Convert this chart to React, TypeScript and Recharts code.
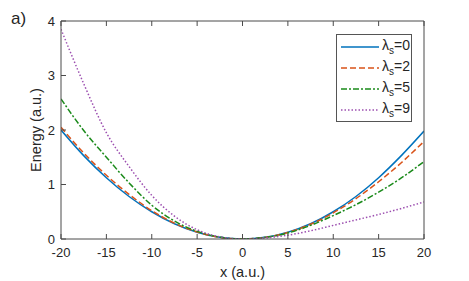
import { LineChart, Line, XAxis, YAxis } from 'recharts';

// x positions (a.u.) and energies
const xs = [-20, -17.5, -15, -12.5, -10, -7.5, -5, -2.5, 0, 2.5, 5, 7.5, 10, 12.5, 15, 17.5, 20];
const lambda0 = [2.0, 1.53, 1.125, 0.78, 0.5, 0.28, 0.125, 0.03, 0, 0.03, 0.125, 0.28, 0.5, 0.78, 1.125, 1.53, 1.98];
const lambda2 = [2.05, 1.58, 1.17, 0.82, 0.52, 0.29, 0.13, 0.03, 0, 0.03, 0.12, 0.27, 0.48, 0.74, 1.05, 1.4, 1.79];
const lambda5 = [2.57, 1.99, 1.5, 1.03, 0.62, 0.33, 0.14, 0.035, 0, 0.03, 0.11, 0.25, 0.43, 0.63, 0.86, 1.12, 1.42];
const lambda9 = [3.85, 2.85, 1.95, 1.33, 0.8, 0.42, 0.17, 0.04, 0, 0.02, 0.07, 0.15, 0.25, 0.35, 0.45, 0.56, 0.68];

const xTicks = [-20, -15, -10, -5, 0, 5, 10, 15, 20];
const yTicks = [0, 1, 2, 3, 4];

const series = [
  { key: 'l0', lambda: '0', color: '#0072BD', dash: undefined },
  { key: 'l2', lambda: '2', color: '#D95319', dash: '6 3' },
  { key: 'l5', lambda: '5', color: '#1a8a1a', dash: '6 2 2 2' },
  { key: 'l9', lambda: '9', color: '#9c4fb0', dash: '1.5 2' },
];

const data = xs.map((x, i) => ({
  x,
  l0: lambda0[i],
  l2: lambda2[i],
  l5: lambda5[i],
  l9: lambda9[i],
}));

const font = 'Liberation Sans, Arial, Helvetica, sans-serif';
const axisColor = '#4a4a4a';
const tickStyle = { fill: '#262626', fontSize: 13, fontFamily: font };
const noLabel = () => <g />;

function LegendBox() {
  return (
    <div
      style={{
        position: 'absolute',
        left: 336,
        top: 34,
        width: 76,
        height: 88,
        border: '1px solid #555',
        background: '#fff',
        boxSizing: 'border-box',
        padding: '1px 0 0 3px',
        fontFamily: font,
        fontSize: 14,
        color: '#262626',
      }}
    >
      {series.map((s) => (
        <div key={s.key} style={{ display: 'flex', alignItems: 'center', height: 21 }}>
          <svg width={40} height={6}>
            <line x1={1} y1={3} x2={39} y2={3} stroke={s.color} strokeWidth={1.6} strokeDasharray={s.dash} />
          </svg>
          <span style={{ marginLeft: 2, whiteSpace: 'nowrap' }}>
            λ<sub style={{ fontSize: 10 }}>s</sub>={s.lambda}
          </span>
        </div>
      ))}
    </div>
  );
}

export default function App() {
  return (
    <div style={{ position: 'absolute', left: 0, top: 0, width: 469, height: 281, background: '#fff' }}>
      <div style={{ position: 'absolute', left: 11, top: 9, fontFamily: font, fontSize: 17, color: '#262626' }}>a)</div>
      <LineChart width={469} height={281} data={data} margin={{ top: 16, right: 40, left: 21, bottom: 0 }}>
        <XAxis
          dataKey="x"
          type="number"
          domain={[-20, 20]}
          ticks={xTicks}
          allowDataOverflow
          height={42}
          stroke={axisColor}
          tick={tickStyle}
          tickSize={-5}
          tickMargin={14}
          label={{ value: 'x (a.u.)', position: 'insideBottom', offset: 4, fill: '#262626', fontSize: 14.5, fontFamily: font }}
        />
        <XAxis
          xAxisId="top"
          orientation="top"
          dataKey="x"
          type="number"
          domain={[-20, 20]}
          ticks={xTicks}
          height={5}
          stroke={axisColor}
          tick={noLabel}
          tickSize={-5}
        />
        <YAxis
          domain={[0, 4]}
          ticks={yTicks}
          allowDataOverflow
          width={40}
          stroke={axisColor}
          tick={tickStyle}
          tickSize={-5}
          tickMargin={11}
          label={{ value: 'Energy (a.u.)', angle: -90, position: 'center', dx: -5, fill: '#262626', fontSize: 14.5, fontFamily: font }}
        />
        <YAxis
          yAxisId="right"
          orientation="right"
          domain={[0, 4]}
          ticks={yTicks}
          width={5}
          stroke={axisColor}
          tick={noLabel}
          tickSize={-5}
        />
        {series.map((s) => (
          <Line
            key={s.key}
            dataKey={s.key}
            type="monotone"
            stroke={s.color}
            strokeWidth={1.5}
            strokeDasharray={s.dash}
            dot={false}
            activeDot={false}
            isAnimationActive={false}
          />
        ))}
      </LineChart>
      <LegendBox />
    </div>
  );
}
